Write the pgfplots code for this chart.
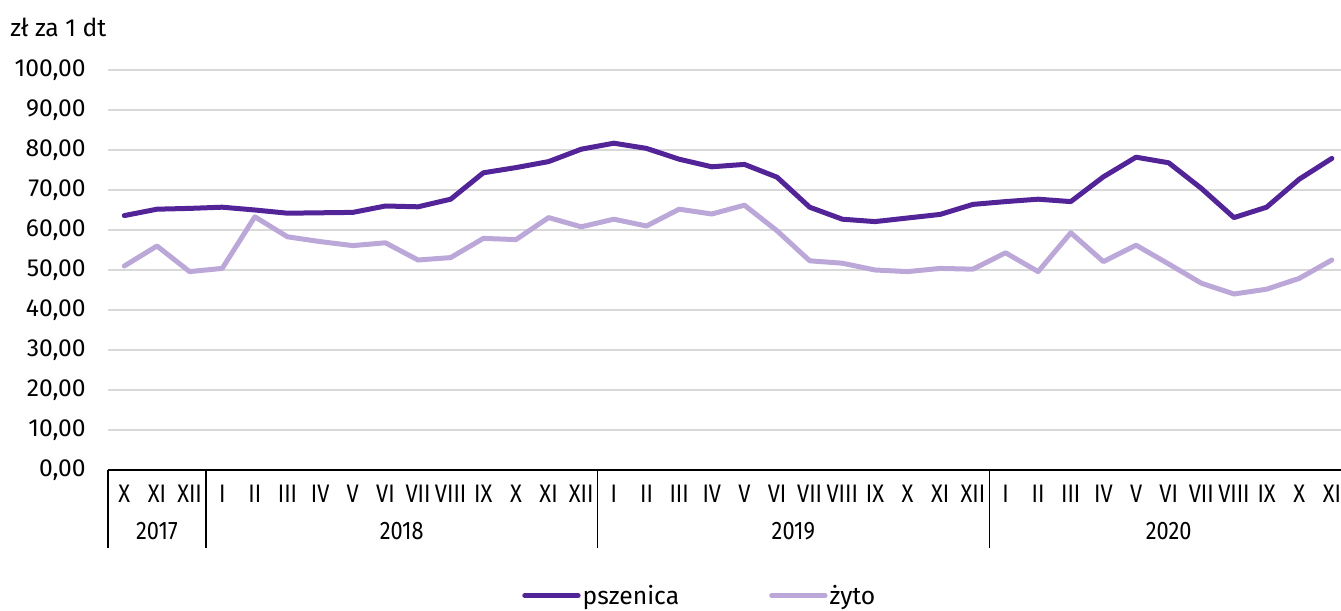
\documentclass[border=0pt]{standalone}
\usepackage{fontspec}
\setmainfont{Fira Sans}
\newfontfamily\condfont[FakeStretch=0.86]{Fira Sans}
\usepackage{pgfplots}
\usepackage{pgfplotstable}
\pgfplotsset{compat=1.18}
\usetikzlibrary{calc}

\definecolor{psz}{RGB}{82,36,152}
\definecolor{zyto}{RGB}{188,168,216}
\definecolor{gridc}{RGB}{217,217,217}

% ceny skupu, zl za 1 dt; idx 0 = X 2017
\pgfplotstableread{
idx psz zyto
0 63.6 51.0
1 65.2 56.0
2 65.4 49.6
3 65.7 50.4
4 65.0 63.3
5 64.2 58.3
6 64.3 57.1
7 64.4 56.1
8 66.0 56.8
9 65.8 52.5
10 67.7 53.1
11 74.3 57.9
12 75.6 57.6
13 77.1 63.1
14 80.2 60.8
15 81.7 62.7
16 80.4 61.0
17 77.7 65.2
18 75.8 64.0
19 76.4 66.2
20 73.2 59.8
21 65.7 52.3
22 62.7 51.7
23 62.1 50.0
24 63.0 49.6
25 63.9 50.4
26 66.4 50.2
27 67.1 54.3
28 67.7 49.6
29 67.1 59.3
30 73.3 52.1
31 78.2 56.2
32 76.8 51.5
33 70.4 46.7
34 63.1 44.0
35 65.7 45.2
36 72.7 47.9
37 77.9 52.5
}\dane

\begin{document}
\begin{tikzpicture}
\begin{axis}[
  name=ax,
  scale only axis,
  width=924.75pt, height=300pt,
  xmin=-0.5, xmax=37.28,
  ymin=0, ymax=100,
  axis x line*=bottom, axis y line*=left,
  y axis line style={draw=none},
  x axis line style={black, line width=1pt},
  ytick={0,10,...,100},
  ymajorgrids,
  grid style={gridc, line width=1.3pt},
  major tick length=0pt,
  /pgf/number format/assume math mode=true,
  yticklabel style={font=\fontsize{18.5}{22}\selectfont, anchor=east, inner sep=0pt, xshift=-16.5pt,
    /pgf/number format/.cd, fixed, fixed zerofill, precision=2, use comma, 1000 sep={}},
  xtick={0,...,37},
  xticklabels={X,XI,XII,I,II,III,IV,V,VI,VII,VIII,IX,X,XI,XII,I,II,III,IV,V,VI,VII,VIII,IX,X,XI,XII,I,II,III,IV,V,VI,VII,VIII,IX,X,XI},
  xticklabel style={font=\condfont\fontsize{19}{22}\selectfont, anchor=center, inner sep=0pt, yshift=-18pt},
  extra x ticks={-0.5,2.5,14.5,26.5},
  extra x tick labels={},
  extra x tick style={major tick length=58.5pt, tick align=outside,
    major tick style={black, line width=1pt}, grid=none},
  legend style={at={(0.48,-0.314)}, anchor=center, draw=none, fill=none,
    legend columns=2, font=\fontsize{18.5}{22}\selectfont,
    /tikz/every even column/.append style={column sep=66pt},
    nodes={inner sep=1.5pt}},
  legend image code/.code={\draw[#1] (0pt,0pt) -- (40pt,0pt);},
  clip=false,
]
\addplot[psz, line width=3.75pt, line join=round, line cap=round] table[x=idx, y=psz] {\dane};
\addlegendentry{pszenica}
\addplot[zyto, line width=3.75pt, line join=round, line cap=round] table[x=idx, y=zyto] {\dane};
\addlegendentry{żyto}
\node[font=\condfont\fontsize{19}{22}\selectfont] at (axis cs:1,0) [yshift=-45.75pt] {2017};
\node[font=\condfont\fontsize{19}{22}\selectfont] at (axis cs:8.5,0) [yshift=-45.75pt] {2018};
\node[font=\condfont\fontsize{19}{22}\selectfont] at (axis cs:20.5,0) [yshift=-45.75pt] {2019};
\node[font=\condfont\fontsize{19}{22}\selectfont] at (axis cs:32,0) [yshift=-45.75pt] {2020};
\end{axis}
\node[anchor=west, inner sep=0pt, font=\fontsize{18.5}{22}\selectfont] at ($(ax.north west)+(-73.5pt,32.25pt)$) {zł za 1 dt};
\pgfresetboundingbox
\path[use as bounding box] ($(ax.south west)+(-81pt,-105pt)$) rectangle ($(ax.north east)+(0pt,52.5pt)$);
\end{tikzpicture}
\end{document}
